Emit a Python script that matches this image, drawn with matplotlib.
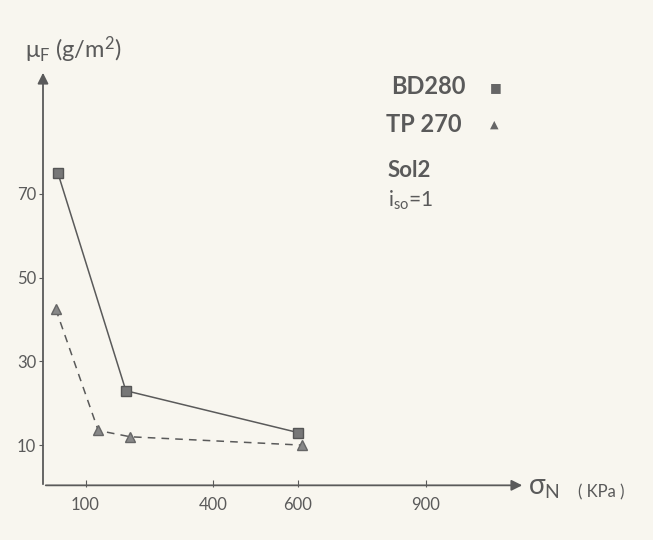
import matplotlib.pyplot as plt

# data
bd280_x = [35, 195, 600]
bd280_y = [75, 23, 13]
tp270_x = [30, 130, 205, 610]
tp270_y = [42.5, 13.5, 12, 10]
xticks = [100, 400, 600, 900]
yticks = [10, 30, 50, 70]

ink = '#5a5a5a'
paper = '#f8f6ef'
plt.rcParams['font.family'] = ['Lato', 'DejaVu Sans']
plt.rcParams['mathtext.fontset'] = 'custom'
plt.rcParams['mathtext.rm'] = 'Lato'
plt.rcParams['mathtext.it'] = 'Lato'

fig = plt.figure(figsize=(6.53, 5.40), dpi=100, facecolor=paper)
ax = fig.add_axes([43 / 653, 1 - 487 / 540, (525 - 43) / 653, (487 - 70) / 540])
ax.set_facecolor(paper)
ax.set_xlim(0, 1134)
ax.set_ylim(0, 99.6)

ax.plot(bd280_x, bd280_y, color=ink, lw=1.1, marker='s', ms=7,
        mfc='#777777', mec='#555555')
ax.plot(tp270_x, tp270_y, color=ink, lw=1.1, ls=(0, (5, 4)), marker='^', ms=7,
        mfc='#888888', mec='#666666')

# hand-drawn style axes with arrows
for s in ax.spines.values():
    s.set_visible(False)
ax.annotate('', xy=(1.0, 0.004), xytext=(0, 0.004), xycoords='axes fraction',
            arrowprops=dict(arrowstyle='-|>', color=ink, lw=1.3, mutation_scale=16))
ax.annotate('', xy=(0, 1.0), xytext=(0, 0), xycoords='axes fraction',
            arrowprops=dict(arrowstyle='-|>', color=ink, lw=1.3, mutation_scale=16))

ax.set_xticks(xticks)
ax.set_yticks(yticks)
ax.tick_params(axis='x', direction='in', length=5, color=ink, labelcolor=ink,
               labelsize=12, pad=7)
ax.tick_params(axis='y', direction='out', length=3, color=ink, labelcolor=ink,
               labelsize=12, pad=2)

fig.text(25 / 653, 1 - 50 / 540, r'$\mu_F$ (g/m$^2$)', color=ink, fontsize=17,
         va='center', ha='left')
fig.text(528 / 653, 1 - 488 / 540, r'$\sigma_N$', color=ink, fontsize=20,
         va='center', ha='left')
fig.text(578 / 653, 1 - 492 / 540, '( KPa )', color=ink, fontsize=12,
         va='center', ha='left')

fig.text(391 / 653, 1 - 87 / 540, 'BD280', color=ink, fontsize=17,
         fontweight='bold', va='center')
fig.text(490 / 653, 1 - 87 / 540, '\u25a0', color='#666666', fontsize=9,
         va='center')
fig.text(386 / 653, 1 - 124 / 540, 'TP 270', color=ink, fontsize=17,
         fontweight='bold', va='center')
fig.text(490 / 653, 1 - 124 / 540, '\u25b2', color='#666666', fontsize=8,
         va='center')
fig.text(388 / 653, 1 - 170 / 540, 'Sol2', color=ink, fontsize=16,
         fontweight='bold', va='center')
fig.text(388 / 653, 1 - 200 / 540, r'i$_{so}$=1', color=ink, fontsize=15,
         va='center')

fig.savefig('out.png', dpi=100, facecolor=paper)
